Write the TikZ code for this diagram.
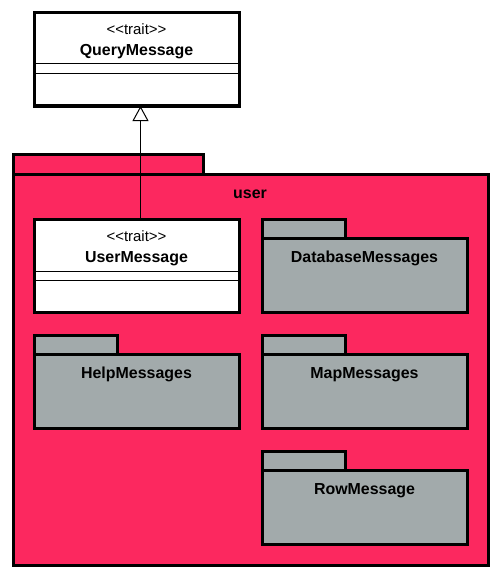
\documentclass[tikz,border=0pt]{standalone}
\usepackage{fontspec}
\setmainfont{Liberation Sans}
\usetikzlibrary{arrows.meta}
\definecolor{pkpink}{RGB}{252,40,95}
\definecolor{pkgray}{RGB}{162,170,171}
\tikzset{
  box/.style={draw=black, line width=3bp, anchor=north west, inner sep=0pt, outer sep=0pt},
  classbox/.style={box, fill=white, minimum width=205bp, minimum height=93bp},
  sep/.style={line width=1bp, draw=black},
  stereo/.style={font=\fontsize{15}{15}\selectfont, inner sep=0pt, anchor=base},
  title/.style={font=\fontsize{16}{16}\selectfont\bfseries, inner sep=0pt, anchor=base},
  inherit/.style={line width=1bp, -{Triangle[open, length=15bp, width=16bp, line width=1bp]}},
}
\newcommand{\trt}{<\kern0pt<\kern0pt trait\kern0pt>\kern0pt>}
\begin{document}
\begin{tikzpicture}[x=1bp,y=-1bp]
\useasboundingbox[fill=white] (0,0) rectangle (500,578);
% QueryMessage
\node[classbox] (qm) at (34,13) {};
\draw[sep] (34,64) -- (239,64);
\draw[sep] (34,74) -- (239,74);
\node[stereo] (qms) at (136.5,35) {\trt};
\node[title] (qmt) at (136.5,56) {QueryMessage};
% user package
\node[box, fill=pkpink, minimum width=190bp, minimum height=20bp] (usertab) at (13,155) {};
\node[box, fill=pkpink, minimum width=475bp, minimum height=391bp] (user) at (13,174) {};
\node[title] (usert) at (250,198) {user};
% UserMessage
\node[classbox] (um) at (34,219) {};
\draw[sep] (34,271) -- (239,271);
\draw[sep] (34,280) -- (239,280);
\node[stereo] (ums) at (136.5,241.5) {\trt};
\node[title] (umt) at (136.5,262) {UserMessage};
% sub packages
\foreach \nm/\x/\y/\lbl in {db/262/219/DatabaseMessages, help/34/335/HelpMessages, map/262/335/MapMessages, row/262/451/RowMessage}{
  \node[box, fill=pkgray, minimum width=83bp, minimum height=20bp] (\nm tab) at (\x,\y) {};
  \node[box, fill=pkgray, minimum width=205bp, minimum height=74bp] (\nm) at (\x,\y+19) {};
  \node[title] (\nm t) at (\x+102.5,\y+43.5) {\lbl};
}
% inheritance
\draw[inherit] (um.north -| 140.5,0) -- (qm.south -| 140.5,0);
\end{tikzpicture}
\end{document}
